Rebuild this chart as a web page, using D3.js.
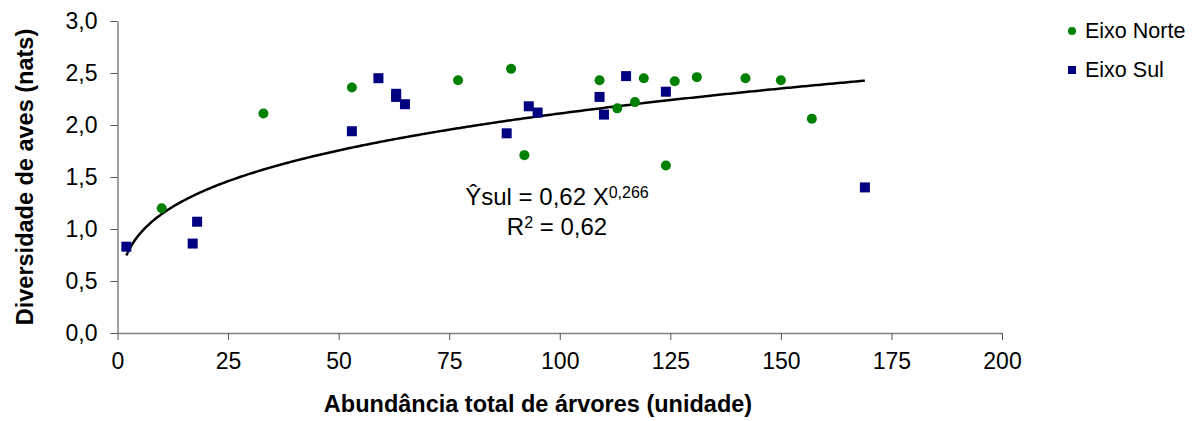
<!DOCTYPE html>
<html lang="pt">
<head>
    <meta charset="UTF-8">
    <title>Diversidade de aves x abundância de árvores</title>
    <script src="https://d3js.org/d3.v7.min.js"></script>
    <style>
        body {
            margin: 0;
            background: #ffffff;
        }
        svg {
            display: block;
            font-family: Arial, "Liberation Sans", sans-serif;
        }
        .axis text {
            font-size: 23px;
            fill: #000;
        }
        .axis .domain {
            stroke: #808080;
            stroke-width: 1.5;
        }
        .axis .tick line {
            stroke: #555;
        }
        .trend {
            fill: none;
            stroke: #000;
            stroke-width: 2.5;
        }
    </style>
</head>
<body>
    <svg width="1200" height="421"></svg>

    <script>
        // Eixo Norte (green circles)
        const norteX = [10, 33, 53, 77, 89, 92, 109, 113, 117, 119, 124, 126, 131, 142, 150, 157];
        const norteY = [1.20, 2.11, 2.36, 2.43, 2.54, 1.71, 2.43, 2.16, 2.22, 2.45, 1.61, 2.42, 2.46, 2.45, 2.43, 2.06];

        // Eixo Sul (blue squares)
        const sulX = [2, 17, 18, 53, 59, 63, 63, 65, 88, 93, 95, 109, 110, 115, 124, 169];
        const sulY = [0.83, 0.86, 1.07, 1.94, 2.45, 2.30, 2.27, 2.20, 1.92, 2.18, 2.12, 2.27, 2.10, 2.47, 2.32, 1.40];

        // power fit shown on the chart: Ysul = 0.62 X^0.266, drawn over the Sul range
        const fitA = 0.62;
        const fitB = 0.266;

        const xTicks = [0, 25, 50, 75, 100, 125, 150, 175, 200];
        const yTicks = [0, 0.5, 1, 1.5, 2, 2.5, 3];

        const norte = norteX.map((x, i) => ({ x: x, y: norteY[i] }));
        const sul = sulX.map((x, i) => ({ x: x, y: sulY[i] }));

        const svg = d3.select("svg");

        const x = d3.scaleLinear().domain([0, 200]).range([117.5, 1002]);
        const y = d3.scaleLinear().domain([0, 3]).range([333, 21]);

        const comma = d => d.toFixed(1).replace(".", ",");

        // axes
        svg.append("g")
            .attr("class", "axis")
            .attr("transform", `translate(0,${y(0)})`)
            .call(d3.axisBottom(x).tickValues(xTicks).tickSizeInner(7).tickSizeOuter(0).tickPadding(13));

        svg.append("g")
            .attr("class", "axis")
            .attr("transform", `translate(${x(0)},0)`)
            .call(d3.axisLeft(y).tickValues(yTicks).tickFormat(comma).tickSizeInner(7).tickSizeOuter(0).tickPadding(13));

        // axis titles
        svg.append("text")
            .attr("x", 538)
            .attr("y", 412)
            .attr("text-anchor", "middle")
            .style("font-size", "23.5px")
            .style("font-weight", "bold")
            .text("Abundância total de árvores (unidade)");

        svg.append("text")
            .attr("transform", "translate(33,177) rotate(-90)")
            .attr("text-anchor", "middle")
            .style("font-size", "23.5px")
            .style("font-weight", "bold")
            .text("Diversidade de aves (nats)");

        // trend curve
        const xMin = d3.min(sulX), xMax = d3.max(sulX);
        const curveXs = d3.range(xMin, xMax, 0.5).concat([xMax]);
        const line = d3.line()
            .x(d => x(d))
            .y(d => y(fitA * Math.pow(d, fitB)));

        svg.append("path")
            .datum(curveXs)
            .attr("class", "trend")
            .attr("d", line);

        // points
        svg.selectAll(".norte")
            .data(norte)
            .enter().append("circle")
            .attr("class", "norte")
            .attr("cx", d => x(d.x))
            .attr("cy", d => y(d.y))
            .attr("r", 5)
            .attr("fill", "#008000");

        svg.selectAll(".sul")
            .data(sul)
            .enter().append("rect")
            .attr("class", "sul")
            .attr("x", d => x(d.x) - 5)
            .attr("y", d => y(d.y) - 5)
            .attr("width", 10)
            .attr("height", 10)
            .attr("fill", "#000080");

        // equation
        const eq = svg.append("text")
            .attr("x", 557)
            .attr("y", 205)
            .attr("text-anchor", "middle")
            .style("font-size", "24px");
        eq.append("tspan").text("Ŷsul = 0,62 X");
        eq.append("tspan").attr("dy", -7).style("font-size", "16px").text("0,266");

        const r2 = svg.append("text")
            .attr("x", 557)
            .attr("y", 235)
            .attr("text-anchor", "middle")
            .style("font-size", "24px");
        r2.append("tspan").text("R");
        r2.append("tspan").attr("dy", -7).style("font-size", "16px").text("2");
        r2.append("tspan").attr("dy", 7).text(" = 0,62");

        // legend
        const legend = svg.append("g");
        legend.append("circle").attr("cx", 1072).attr("cy", 31).attr("r", 4).attr("fill", "#008000");
        legend.append("text").attr("x", 1085).attr("y", 38).style("font-size", "21.5px").text("Eixo Norte");
        legend.append("rect").attr("x", 1068).attr("y", 66).attr("width", 8).attr("height", 8).attr("fill", "#000080");
        legend.append("text").attr("x", 1085).attr("y", 77).style("font-size", "21.5px").text("Eixo Sul");
    </script>
</body>
</html>
